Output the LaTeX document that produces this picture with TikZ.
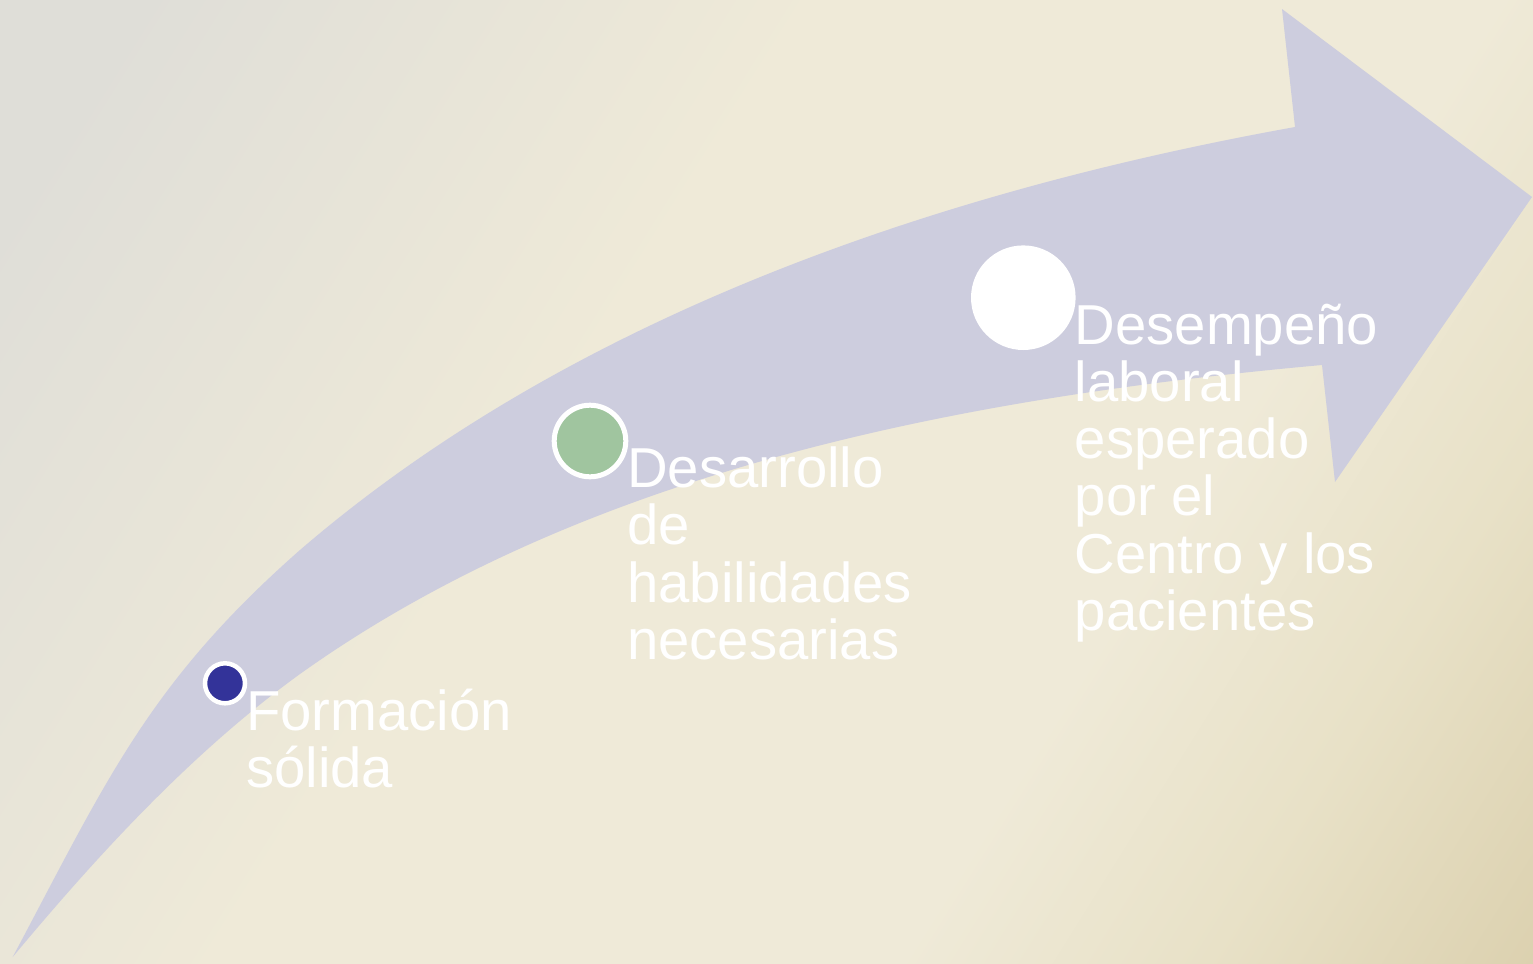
\documentclass[tikz,border=0pt]{standalone}
\usepackage{fontspec}
\setmainfont{Liberation Sans}
\definecolor{bggray}{HTML}{DFDED8}
\definecolor{bgcream}{HTML}{EFEAD8}
\definecolor{bgmid}{HTML}{E8E1C7}
\definecolor{bgtan}{HTML}{D8CCA8}
\definecolor{arrowc}{HTML}{CDCDDE}
\definecolor{dotblue}{HTML}{333399}
\definecolor{dotgreen}{HTML}{A0C59F}
\pgfdeclareverticalshading{bgsh}{100bp}{color(0bp)=(bgtan); color(12bp)=(bgtan); color(26bp)=(bgmid); color(36bp)=(bgcream); color(58bp)=(bgcream); color(80bp)=(bggray); color(100bp)=(bggray)}
\begin{document}
\begin{tikzpicture}[x=1bp,y=-1bp,
  lbl/.style={text=white, font=\fontsize{56.5}{57.5}\selectfont, align=left, inner sep=0pt, anchor=base west},
  dot/.style={circle, inner sep=0pt, outer sep=0pt}]
\useasboundingbox (0,0) rectangle (1533,963);
\shade[shading=bgsh, shading angle=58] (0,0) rectangle (1533,963);
\fill[arrowc] (12.7,957) .. controls (106.7,780.4) and (148.4,683.4) .. (300,550)
  .. controls (573,315) and (941,190.7) .. (1295,127)
  -- (1282,9) -- (1532,197) -- (1335,482) -- (1322,365)
  .. controls (967.4,397) and (588.7,468) .. (300,674)
  .. controls (192.1,752) and (97.8,854.9) .. (12.7,957) -- cycle;
\node[dot, fill=dotblue, draw=white, line width=4.5bp, minimum size=40bp] (c1) at (225,683.3) {};
\node[dot, fill=dotgreen, draw=white, line width=5bp, minimum size=71.6bp] (c2) at (590,441) {};
\node[dot, fill=white, minimum size=104.6bp] (c3) at (1023.3,297.7) {};
\node[lbl] (t1) at (246,787.5) {Formación\\sólida};
\node[lbl] (t2) at (627,659.5) {Desarrollo\\de\\habilidades\\necesarias};
\node[lbl] (t3) at (1074.5,630.5) {Desempeño\\laboral\\esperado\\por el\\Centro y los\\pacientes};
\end{tikzpicture}
\end{document}
